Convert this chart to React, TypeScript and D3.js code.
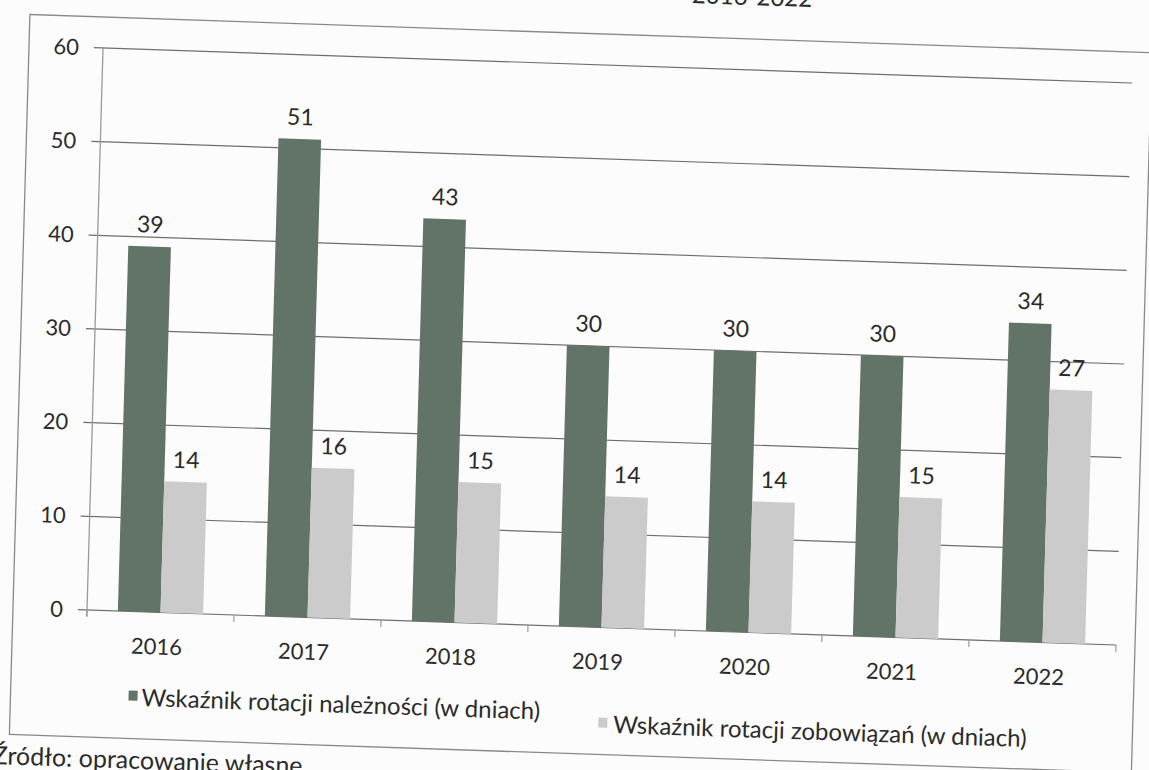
import * as d3 from "d3"

// values
const years = ["2016", "2017", "2018", "2019", "2020", "2021", "2022"]
const receivables = [39, 51, 43, 30, 30, 30, 34]
const payables = [14, 16, 15, 14, 14, 15, 27]
const seriesNames = [
  "Wskaźnik rotacji należności (w dniach)",
  "Wskaźnik rotacji zobowiązań (w dniach)",
]
const yTicks = [0, 10, 20, 30, 40, 50, 60]

const W = 1149
const H = 770
const FONT = "Lato, 'Open Sans', sans-serif"
const DARK = "#627467"
const LIGHT = "#cbcbcb"
const INK = "#2b2b2b"

// origin of the plot (value 0, left axis)
const x0 = 87
const y0 = 610
// scan skew: rows drift down to the right, columns lean left going down
const skewB = 0.034
const skewC = -0.0285

export default function App() {
  const x = d3.scaleBand<string>().domain(years).range([x0, x0 + 7 * 147]).paddingInner(0.42).paddingOuter(0.21)
  const sub = d3.scaleBand<number>().domain([0, 1]).range([0, x.bandwidth()]).padding(0)
  const y = d3.scaleLinear().domain([0, 60]).range([y0, 48])
  const step = x.step()
  const plotRight = x0 + step * years.length

  const matrix = `matrix(1,${skewB},${skewC},1,${-skewC * y0},${-skewB * x0})`

  const series = [
    { values: receivables, color: DARK },
    { values: payables, color: LIGHT },
  ]

  return (
    <svg
      width={W}
      height={H}
      style={{ position: "absolute", left: 0, top: 0, background: "#fcfcfc", fontFamily: FONT }}
    >
      <g transform={matrix}>
        {/* title, mostly cut off by the scan */}
        <text x={794} y={-17} textAnchor="end" fontSize={24} fill={INK}>
          2016-2022
        </text>

        {/* outer frame */}
        <rect x={13} y={17} width={1122} height={720} fill="none" stroke="#8a8a8a" strokeWidth={1.3} />

        {/* gridlines + y ticks */}
        {yTicks.map((t) => (
          <g key={t}>
            <line x1={x0 - 9} x2={plotRight} y1={y(t)} y2={y(t)} stroke="#6e6e6e" strokeWidth={1.2} />
            <text x={x0 - 24} y={y(t)} dy="0.35em" textAnchor="end" fontSize={22} fill={INK}>
              {t}
            </text>
          </g>
        ))}

        {/* y axis line */}
        <line x1={x0} x2={x0} y1={y(60)} y2={y0 + 6} stroke="#9a9a9a" strokeWidth={1.3} />

        {/* category ticks */}
        {d3.range(years.length + 1).map((i) => (
          <line key={i} x1={x0 + i * step} x2={x0 + i * step} y1={y0} y2={y0 + 7} stroke="#9a9a9a" strokeWidth={1.2} />
        ))}

        {/* bars */}
        {series.map((s, si) =>
          years.map((yr, i) => (
            <rect
              key={`${si}-${yr}`}
              x={(x(yr) as number) + (sub(si) as number)}
              y={y(s.values[i])}
              width={sub.bandwidth()}
              height={y0 - y(s.values[i])}
              fill={s.color}
            />
          ))
        )}

        {/* value labels */}
        {series.map((s, si) =>
          years.map((yr, i) => (
            <text
              key={`l${si}-${yr}`}
              x={(x(yr) as number) + (sub(si) as number) + sub.bandwidth() / 2}
              y={y(s.values[i]) - 14}
              textAnchor="middle"
              fontSize={23}
              fill={INK}
            >
              {s.values[i]}
            </text>
          ))
        )}

        {/* year labels */}
        {years.map((yr) => (
          <text key={yr} x={(x(yr) as number) + x.bandwidth() / 2 - 3} y={y0 + 42} textAnchor="middle" fontSize={22} fill={INK}>
            {yr}
          </text>
        ))}

        {/* legend */}
        <rect x={131} y={689} width={9} height={10} fill={DARK} />
        <text x={144} y={704} fontSize={24} fill={INK}>
          {seriesNames[0]}
        </text>
        <rect x={601} y={700} width={9} height={10} fill={LIGHT} />
        <text x={616} y={715} fontSize={24} fill={INK}>
          {seriesNames[1]}
        </text>

        {/* source note */}
        <text x={-3} y={767} fontSize={25} fill={INK}>
          Źródło: opracowanie własne
        </text>
      </g>
    </svg>
  )
}
